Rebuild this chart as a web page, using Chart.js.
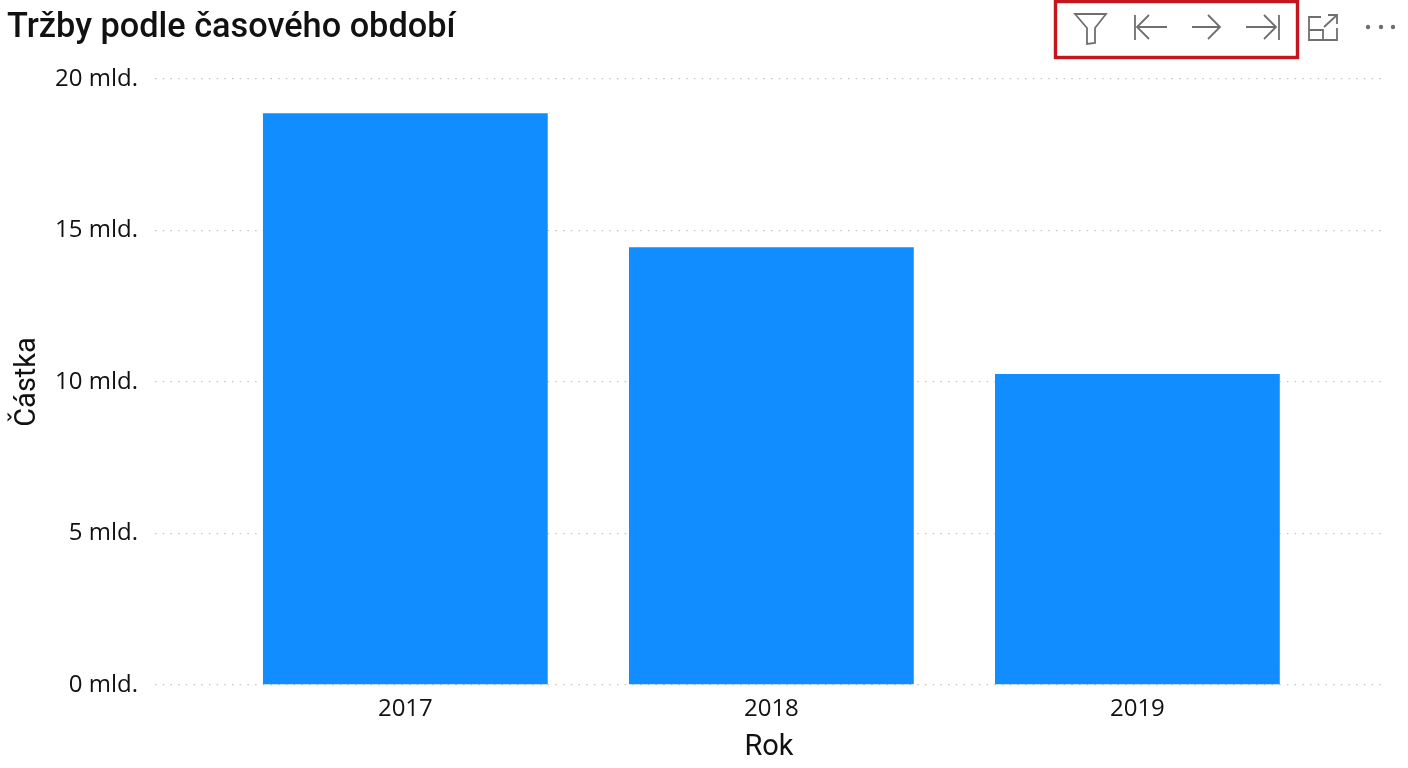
<!DOCTYPE html>
<html lang="cs">
<head>
  <meta charset="UTF-8" />
  <title>Tržby podle časového období</title>
  <style>
    html,body{margin:0;background:#fff;overflow:hidden}
    #wrap{position:relative;width:1408px;height:768px}
    canvas{display:block}
    #toolbar{position:absolute;left:0;top:0;pointer-events:none}
  </style>
</head>
<body>
  <div id="wrap">
    <canvas id="chart" width="1408" height="768"></canvas>
    <!-- ikony hlavičky vizuálu -->
    <svg id="toolbar" width="1408" height="70" fill="none" stroke="#6f6f6f" stroke-width="1.8">
      <rect x="1055.5" y="1.5" width="242" height="56" stroke="#c4161c" stroke-width="3.4"/>
      <path d="M1075 14H1106L1095 28V43L1087 44V28Z"/>
      <path d="M1135 15V40M1167 27H1137M1149 15L1137 27L1149 39"/>
      <path d="M1192 27H1220M1208 15L1220 27L1208 39"/>
      <path d="M1246 27H1276M1264 15L1276 27L1264 39M1279 15V40"/>
      <path d="M1321 17H1309V40H1337V28M1309 30H1323V40M1324 27L1337 15M1328 15H1337V24"/>
      <g fill="#6f6f6f" stroke="none">
        <circle cx="1368" cy="27" r="2.2"/><circle cx="1381" cy="27" r="2.2"/><circle cx="1393" cy="27" r="2.2"/>
      </g>
    </svg>
  </div>

  <script src="https://cdn.jsdelivr.net/npm/chart.js"></script>
  <script>
  const chartTitle='Tržby podle časového období';
  const xTitle='Rok';
  const yTitle='Částka';
  const years=[2017,2018,2019];
  const amounts=[18.87e9,14.45e9,10.26e9];
  const yTicks=[0,5e9,10e9,15e9,20e9];

  const textColor='#111';
  const tickFont={family:'"Open Sans"',size:24};
  const headFont={family:'Roboto',size:29,weight:'400'};

  new Chart(document.getElementById('chart').getContext('2d'),{
    type:'bar',
    data:{datasets:[{
      data:years.map((y,i)=>({x:y,y:amounts[i]})),
      backgroundColor:'#118dff',
      barPercentage:.778,categoryPercentage:1
    }]},
    options:{
      responsive:false,animation:false,
      layout:{padding:{left:7,right:25,top:0,bottom:0}},
      plugins:{
        legend:{display:false},
        tooltip:{enabled:false},
        title:{display:true,text:chartTitle,align:'start',color:textColor,
          font:{family:'Roboto',size:34.3,weight:'500'},
          padding:{top:8,bottom:29.8}}
      },
      scales:{
        x:{type:'linear',offset:false,min:2016.316,max:2019.671,
          afterBuildTicks(s){s.ticks=years.map(v=>({value:v}));},
          afterFit(s){s.height=83;},
          grid:{display:false},border:{display:false},
          ticks:{color:textColor,font:tickFont,padding:2,autoSkip:false,maxRotation:0,
            callback:v=>String(v)},
          title:{display:true,text:xTitle,color:textColor,font:headFont,padding:{top:0,bottom:3}}
        },
        y:{min:0,max:20e9,
          afterBuildTicks(s){s.ticks=yTicks.map(v=>({value:v}));},
          afterFit(s){s.width=148;},
          grid:{color:'#c4c4c4',lineWidth:1.3,drawTicks:false},
          border:{display:false,dash:[1.5,6.2]},
          ticks:{color:textColor,font:tickFont,padding:17,
            callback:v=>(v/1e9)+' mld.'},
          title:{display:true,text:yTitle,color:textColor,font:headFont,padding:{top:3,bottom:0}}
        }
      }
    }
  });
  </script>
</body>
</html>
